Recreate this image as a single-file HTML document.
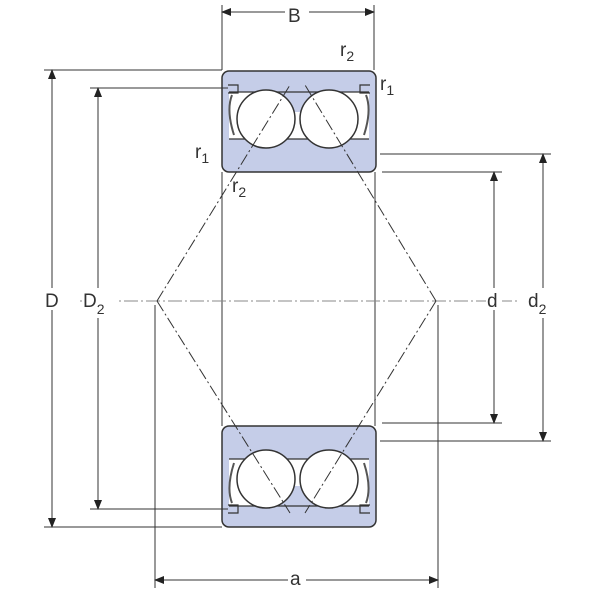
<!DOCTYPE html>
<html><head><style>body{margin:0;background:#fff}svg{display:block}text{font-family:"Liberation Sans",sans-serif;fill:#333}</style></head><body>
<svg width="600" height="600" viewBox="0 0 600 600">
<defs>
<marker id="ar" markerWidth="10" markerHeight="8" refX="9" refY="4" orient="auto-start-reverse" markerUnits="userSpaceOnUse"><path d="M0,0 L10,4 L0,8 z" fill="#222"/></marker>
<g id="brg">
<rect x="222" y="71" width="154" height="101" rx="7" fill="#c5cde8" stroke="#333" stroke-width="1.5"/>
<rect x="229" y="92" width="140" height="47" fill="#fff"/>
<path d="M280,92 L318,92 L305,112 L293,112 Z" fill="#c5cde8"/>
<line x1="229" y1="92" x2="369" y2="92" stroke="#333" stroke-width="1.2"/>
<line x1="229" y1="139" x2="369" y2="139" stroke="#333" stroke-width="1.2"/>
<circle cx="266" cy="119" r="29" fill="#fff" stroke="#333" stroke-width="1.5"/>
<circle cx="329" cy="119" r="29" fill="#fff" stroke="#333" stroke-width="1.5"/>
<path d="M232,95 q-6,15 2,40 M366,95 q6,15 -2,40" fill="none" stroke="#555" stroke-width="2"/>
<path d="M228,85 h10 v8 h-10 M370,85 h-10 v8 h10" fill="none" stroke="#333" stroke-width="1.2"/>
</g>
</defs>
<use href="#brg"/>
<use href="#brg" transform="translate(0,598) scale(1,-1)"/>
<g stroke="#333" stroke-width="1" fill="none">
<line x1="222" y1="172" x2="222" y2="426"/>
<line x1="375" y1="172" x2="375" y2="426"/>
<line x1="80" y1="301" x2="520" y2="301" stroke-dasharray="14,3,2,3" stroke="#888"/>
<path d="M157,301 L290,85 M157,301 L290,513 M436,301 L305,85 M436,301 L305,513" stroke-dasharray="12,3,2,3"/>
<line x1="222" y1="5" x2="222" y2="70"/><line x1="374" y1="5" x2="374" y2="70"/>
<line x1="222" y1="12" x2="374" y2="12" marker-start="url(#ar)" marker-end="url(#ar)"/>
<line x1="44" y1="70" x2="222" y2="70"/><line x1="44" y1="527" x2="222" y2="527"/>
<line x1="52" y1="70" x2="52" y2="527" marker-start="url(#ar)" marker-end="url(#ar)"/>
<line x1="90" y1="88" x2="228" y2="88"/><line x1="90" y1="509" x2="228" y2="509"/>
<line x1="98" y1="88" x2="98" y2="509" marker-start="url(#ar)" marker-end="url(#ar)"/>
<line x1="382" y1="172" x2="502" y2="172"/><line x1="382" y1="423" x2="502" y2="423"/>
<line x1="494" y1="172" x2="494" y2="423" marker-start="url(#ar)" marker-end="url(#ar)"/>
<line x1="380" y1="154" x2="551" y2="154"/><line x1="380" y1="441" x2="551" y2="441"/>
<line x1="543" y1="154" x2="543" y2="441" marker-start="url(#ar)" marker-end="url(#ar)"/>
<line x1="155" y1="305" x2="155" y2="588"/><line x1="438" y1="305" x2="438" y2="588"/>
<line x1="155" y1="580" x2="438" y2="580" marker-start="url(#ar)" marker-end="url(#ar)"/>
</g>
<rect x="285" y="5" width="24" height="20" fill="#fff"/>
<text x="288" y="22" font-size="19">B</text>
<text x="340" y="56" font-size="19">r<tspan font-size="14" dy="5">2</tspan></text>
<text x="380" y="90" font-size="19">r<tspan font-size="14" dy="5">1</tspan></text>
<text x="195" y="158" font-size="19">r<tspan font-size="14" dy="5">1</tspan></text>
<text x="232" y="192" font-size="19">r<tspan font-size="14" dy="5">2</tspan></text>
<rect x="44" y="288" width="20" height="22" fill="#fff"/>
<text x="45" y="307" font-size="19">D</text>
<rect x="82" y="288" width="36" height="30" fill="#fff"/>
<text x="83" y="307" font-size="19">D<tspan font-size="14" dy="7">2</tspan></text>
<rect x="486" y="288" width="16" height="22" fill="#fff"/>
<text x="487" y="307" font-size="19">d</text>
<rect x="527" y="288" width="32" height="30" fill="#fff"/>
<text x="528" y="307" font-size="19">d<tspan font-size="14" dy="7">2</tspan></text>
<rect x="288" y="568" width="18" height="20" fill="#fff"/>
<text x="290" y="585" font-size="19">a</text>
</svg>
</body></html>
